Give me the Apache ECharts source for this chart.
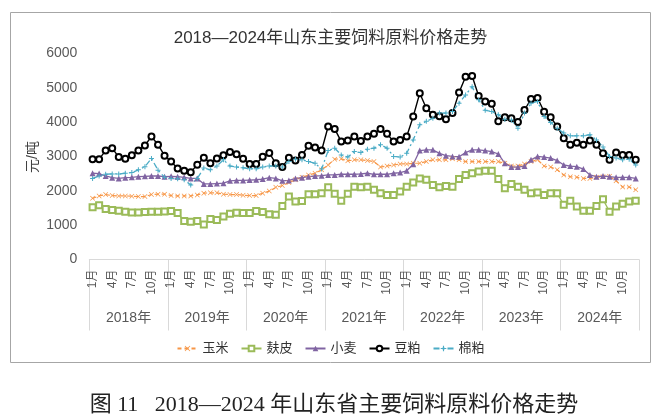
<!DOCTYPE html>
<html>
<head>
<meta charset="utf-8">
<script src="https://cdn.jsdelivr.net/npm/echarts@6/dist/echarts.min.js"></script>
<style>
html,body{margin:0;padding:0;background:#fff;}
#c{width:661px;height:418px;}
</style>
</head>
<body>
<div id="c"></div>
<script>
// ---- data (Jan 2018 – Dec 2024, monthly, 元/吨) ----
const years = ['2018年','2019年','2020年','2021年','2022年','2023年','2024年'];
const monthNames = ['1月','2月','3月','4月','5月','6月','7月','8月','9月','10月','11月','12月'];
const yTicks = [0, 1000, 2000, 3000, 4000, 5000, 6000];

const corn = [ // 玉米
  1780,1850,1890,1860,1850,1850,1840,1830,1830,1890,1900,1900,
  1860,1850,1850,1850,1880,1930,1940,1940,1900,1890,1890,1870,
  1860,1860,1930,1990,2100,2150,2240,2320,2390,2460,2510,2610,
  2750,2920,2930,2870,2900,2900,2880,2850,2690,2720,2750,2780,
  2780,2800,2800,2850,2900,2900,2900,2930,2900,2850,2850,2850,
  2850,2850,2850,2800,2720,2720,2780,2850,2900,2720,2690,2610,
  2460,2410,2390,2360,2360,2390,2410,2420,2290,2110,2110,2030
];
const bran = [ // 麸皮
  1520,1580,1470,1440,1420,1390,1370,1370,1380,1390,1390,1400,
  1410,1350,1120,1100,1120,1020,1180,1150,1250,1330,1360,1350,
  1350,1410,1380,1320,1300,1560,1830,1690,1700,1900,1900,1930,
  2100,1910,1710,1910,2120,2100,2120,2030,1930,1880,1880,1980,
  2120,2240,2360,2320,2170,2100,2140,2120,2340,2460,2510,2560,
  2580,2580,2340,2070,2200,2120,2030,1930,1950,1880,1930,1930,
  1590,1710,1540,1420,1420,1560,1750,1390,1540,1620,1690,1710
];
const wheat = [ // 小麦
  2510,2500,2430,2380,2360,2380,2390,2410,2420,2430,2430,2410,
  2420,2410,2390,2360,2360,2200,2200,2210,2220,2290,2300,2300,
  2310,2320,2340,2380,2360,2290,2300,2360,2380,2410,2430,2440,
  2460,2460,2480,2480,2480,2490,2510,2480,2480,2480,2510,2530,
  2580,2770,3170,3190,3190,3090,3020,3000,2990,3110,3190,3190,
  3170,3140,3070,2800,2690,2690,2720,2900,3000,2980,2950,2880,
  2750,2720,2700,2630,2460,2410,2430,2410,2390,2390,2390,2360
];
const soyMeal = [ // 豆粕
  2920,2920,3170,3240,2980,2930,3030,3170,3320,3580,3340,3020,
  2850,2650,2580,2540,2760,2960,2800,2940,3030,3130,3060,2930,
  2780,2780,2990,3100,2800,2690,2960,2880,3040,3310,3260,3170,
  3870,3800,3430,3460,3580,3450,3580,3660,3800,3660,3430,3480,
  3580,4160,4840,4400,4210,4170,4080,4260,4860,5320,5340,4760,
  4600,4530,4020,4140,4110,4000,4350,4670,4700,4300,4140,3870,
  3530,3340,3400,3340,3460,3340,3090,2900,3110,3040,3040,2900
];
const cottonMeal = [ // 棉粕
  2360,2430,2480,2490,2490,2510,2530,2610,2700,2940,2600,2390,
  2360,2350,2320,2170,2360,2660,2610,2720,2900,2720,2690,2670,
  2640,2640,2690,2720,2720,2690,2850,2920,2900,2850,2800,2630,
  3170,3240,3040,2980,3140,3110,3210,3240,3340,3240,3000,2980,
  3090,3480,3920,4020,4110,4260,4260,4310,4550,4790,5030,4650,
  4340,4310,4210,4080,4060,3820,4260,4550,4600,4160,3990,3820,
  3680,3600,3600,3600,3630,3480,3270,3000,2950,2900,2920,2750
];

// categories: one per month
const categories = [];
years.forEach(y => monthNames.forEach(m => categories.push(y + m)));

const chart = echarts.init(document.getElementById('c'), null, {renderer: 'canvas'});

const xShape = 'path://M1,0L5,4L9,0L10,1L6,5L10,9L9,10L5,6L1,10L0,9L4,5L0,1Z';
const plusShape = 'path://M4,0H6V4H10V6H6V10H4V6H0V4H4Z';
const cjk = '"Liberation Sans", "Noto Sans CJK SC", sans-serif';

chart.setOption({
  animation: false,
  backgroundColor: '#ffffff',
  title: {
    text: '2018—2024年山东主要饲料原料价格走势',
    left: 'center',
    top: 25,
    textStyle: {fontSize: 17, fontWeight: 'normal', color: '#333333', fontFamily: cjk}
  },
  legend: {
    top: 337,
    left: 'center',
    itemWidth: 20,
    itemHeight: 7,
    itemGap: 12,
    textStyle: {fontSize: 13, color: '#333333', fontFamily: cjk},
    data: ['玉米','麸皮','小麦','豆粕','棉粕']
  },
  grid: {left: 89.3, right: 22, top: 53.3, bottom: 158.5, containLabel: false},
  xAxis: [{
    type: 'category',
    data: categories,
    boundaryGap: true,
    position: 'bottom',
    axisLine: {show: true, lineStyle: {color: '#d9d9d9', width: 1}},
    axisTick: {show: false},
    axisLabel: {
      interval: 2,
      rotate: 90,
      margin: 10,
      fontSize: 12,
      color: '#595959',
      fontFamily: cjk,
      formatter: v => v.slice(5)
    },
    splitLine: {show: false}
  }, {
    type: 'category',
    data: years,
    boundaryGap: true,
    position: 'bottom',
    offset: 0,
    axisLine: {show: false},
    axisTick: {show: true, length: 71, lineStyle: {color: '#d9d9d9', width: 1}},
    axisLabel: {margin: 52, fontSize: 14, color: '#595959', fontFamily: cjk},
    splitLine: {show: false}
  }],
  yAxis: {
    type: 'value',
    min: yTicks[0],
    max: yTicks[yTicks.length - 1],
    interval: 1000,
    axisLine: {show: false},
    axisTick: {show: false},
    splitLine: {show: false},
    axisLabel: {fontSize: 14, color: '#595959', margin: 12, fontFamily: cjk,
                formatter: v => String(v)}
  },
  graphic: [
    {type: 'rect', z: -10, shape: {x: 10.5, y: 12.5, width: 640, height: 350},
     style: {fill: 'none', stroke: '#a6a6a6', lineWidth: 1}},
    {type: 'text', x: 33, y: 157, rotation: Math.PI / 2,
     style: {text: '元/吨', fontSize: 14, fill: '#404040', fontFamily: cjk,
             textAlign: 'center', textVerticalAlign: 'middle'}},
    {type: 'text', x: 334, y: 405,
     style: {text: '图 11   2018—2024 年山东省主要饲料原料价格走势', fontSize: 22,
             fill: '#222222', fontFamily: '"Liberation Serif", "Noto Sans CJK SC", serif',
             textAlign: 'center', textVerticalAlign: 'middle'}}
  ],
  series: [
    {name: '玉米', type: 'line', data: corn, symbol: xShape, symbolSize: 5, showAllSymbol: true,
     itemStyle: {color: '#F79646'}, lineStyle: {color: '#F79646', width: 1.2, type: [4, 3]}},
    {name: '麸皮', type: 'line', data: bran, symbol: 'emptyRect', symbolSize: 6, showAllSymbol: true,
     itemStyle: {color: '#9BBB59', borderWidth: 1.3}, lineStyle: {color: '#9BBB59', width: 1.3}},
    {name: '小麦', type: 'line', data: wheat, symbol: 'triangle', symbolSize: 6, showAllSymbol: true,
     itemStyle: {color: '#8064A2'}, lineStyle: {color: '#8064A2', width: 1.3}},
    {name: '豆粕', type: 'line', data: soyMeal, symbol: 'emptyCircle', symbolSize: 6, showAllSymbol: true,
     itemStyle: {color: '#000000', borderWidth: 1.4}, lineStyle: {color: '#000000', width: 1.4}},
    {name: '棉粕', type: 'line', data: cottonMeal, symbol: plusShape, symbolSize: 5, showAllSymbol: true,
     itemStyle: {color: '#4BACC6'}, lineStyle: {color: '#4BACC6', width: 1.3, type: [6, 3, 2, 3]}}
  ]
});
</script>
</body>
</html>
